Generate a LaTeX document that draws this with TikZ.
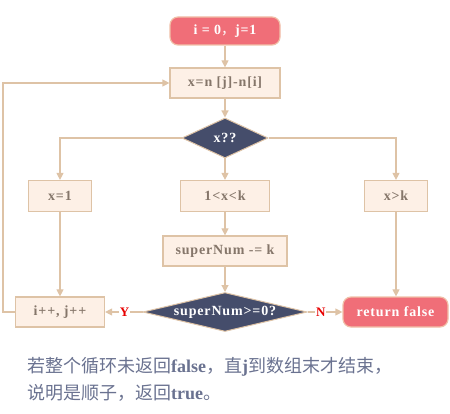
\documentclass[tikz,border=0pt]{standalone}
\usepackage{fontspec}
\setmainfont{Liberation Serif}
\newfontfamily\cjk{Noto Sans CJK SC}
\newfontfamily\boxfont[LetterSpace=6]{Liberation Serif}
\usetikzlibrary{shapes.geometric,arrows.meta}
\definecolor{boxfill}{HTML}{FDF0E6}
\definecolor{boxline}{HTML}{DEC3A6}
\definecolor{boxtext}{HTML}{85766A}
\definecolor{navy}{HTML}{454D6B}
\definecolor{salmon}{HTML}{F06E78}
\definecolor{salmonline}{HTML}{F0C0A8}
\definecolor{notetext}{HTML}{6A7290}
\definecolor{lblred}{HTML}{E80000}
\begin{document}
\begin{tikzpicture}[x=1pt,y=-1pt,
  every node/.style={font=\fontsize{14}{16}\selectfont\boxfont\bfseries},
  procbox/.style={draw=boxline,line width=1.2pt,fill=boxfill,text=boxtext,inner sep=0pt},
  termbox/.style={draw=salmonline,line width=1.2pt,fill=salmon,text=white,rounded corners=8pt,inner sep=0pt},
  decbox/.style={diamond,draw=boxline,line width=1pt,fill=navy,text=white,inner sep=0pt},
  conn/.style={draw=boxline,line width=1.2pt,-{Triangle[length=7pt,width=7pt]}},
  lbl/.style={text=lblred,font=\fontsize{13}{15}\selectfont\bfseries}]
\useasboundingbox (0,0) rectangle (450,414);
\node[termbox,minimum width=110pt,minimum height=28pt] (start) at (225,31) {i = 0{\cjk\mdseries ，}j=1};
\node[procbox,minimum width=110pt,minimum height=30pt] (calc) at (225,83) {x=n [j]-n[i]};
\node[decbox,aspect=2.15,minimum width=86pt,minimum height=40pt] (dx) at (225,138) {x??};
\node[procbox,minimum width=63pt,minimum height=31pt] (one) at (60,196) {x=1};
\node[procbox,minimum width=89pt,minimum height=31pt] (mid) at (225,196) {1<x<k};
\node[procbox,minimum width=63pt,minimum height=31pt] (big) at (396,196) {x>k};
\node[procbox,minimum width=124pt,minimum height=30pt] (sub) at (225,251) {superNum -= k};
\node[decbox,aspect=4.2,minimum width=164pt,minimum height=39pt] (ds) at (225,312) {superNum>=0?};
\node[procbox,minimum width=89pt,minimum height=30pt] (inc) at (60,312) {i++, j++};
\node[termbox,minimum width=105pt,minimum height=30pt] (ret) at (395.5,312) {return false};
\coordinate (lp) at (3,83);
\draw[conn] (start) -- (calc);
\draw[conn] (calc) -- (dx);
\draw[conn] (dx.west) -| (one.north);
\draw[conn] (dx.east) -| (big.north);
\draw[conn] (dx) -- (mid);
\draw[conn] (mid) -- (sub);
\draw[conn] (sub) -- (ds);
\draw[conn] (one) -- (inc);
\draw[conn] (big.south) -- (big.south |- ret.north);
\draw[conn] (ds.west) -- node[lbl,fill=white,inner sep=1pt,pos=0.48] (ylbl) {Y} (inc.east);
\draw[conn] (ds.east) -- node[lbl,fill=white,inner sep=1pt,pos=0.38] (nlbl) {N} (ret.west);
\draw[conn] (inc.west) -| (lp) -- (calc.west);
\node[anchor=north west,align=left,text=notetext,inner sep=0pt,font=\fontsize{18}{27}\selectfont\cjk] (note) at (27,357) {若整个循环未返回\textrm{\bfseries false}，直\textrm{\bfseries j}到数组末才结束，\\说明是顺子，返回\textrm{\bfseries true}。};
\end{tikzpicture}
\end{document}
